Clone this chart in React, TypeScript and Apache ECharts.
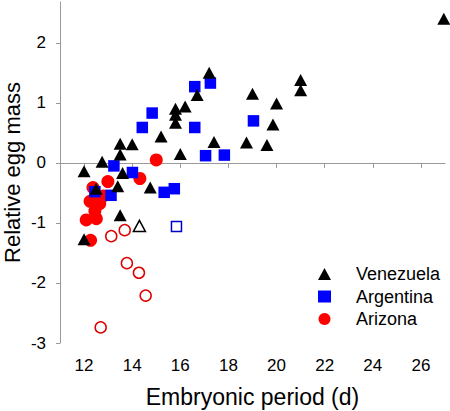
import React, { useEffect, useRef } from "react";
import * as echarts from "echarts";

const xTicks = [12, 14, 16, 18, 20, 22, 24, 26];
const yTicks = [-3, -2, -1, 0, 1, 2];

const venezuela: number[][] = [
  [17.2, 1.5], [16.7, 1.13], [21.0, 1.38], [21.0, 1.21], [19.0, 1.15], [20.0, 0.99],
  [16.2, 0.94], [15.8, 0.9], [15.8, 0.8], [15.8, 0.67], [19.85, 0.64], [15.2, 0.44],
  [17.4, 0.35], [18.75, 0.34], [19.6, 0.3], [13.5, 0.32], [14.0, 0.31], [13.5, 0.14],
  [16.0, 0.15], [12.75, 0.02], [12.0, -0.14], [13.6, -0.17], [12.5, -0.43], [13.4, -0.39],
  [14.75, -0.41], [13.5, -0.87], [12.0, -1.27], [26.95, 2.4],
];
const venezuelaOpen: number[][] = [[14.3, -1.05]];

const argentina: number[][] = [
  [16.6, 1.27], [17.25, 1.33], [14.83, 0.83], [14.42, 0.59], [16.6, 0.59], [19.04, 0.7],
  [17.05, 0.12], [17.83, 0.13], [13.24, -0.05], [14.01, -0.16], [15.33, -0.49], [15.75, -0.43],
  [12.45, -0.48], [13.12, -0.54],
];
const argentinaOpen: number[][] = [[15.84, -1.06]];

const arizona: number[][] = [
  [15.0, 0.05], [14.32, -0.26], [12.99, -0.31], [12.37, -0.41], [12.8, -0.55], [12.6, -0.6],
  [12.25, -0.64], [12.65, -0.68], [12.45, -0.8], [12.09, -0.95], [12.51, -0.93], [12.27, -1.29],
];
const arizonaOpen: number[][] = [
  [13.13, -1.22], [13.69, -1.12], [13.78, -1.67], [14.28, -1.83], [14.56, -2.21], [12.69, -2.74],
];

const FONT = "'Liberation Sans', Arial, sans-serif";

export default function App() {
  const ref = useRef<HTMLDivElement>(null);
  useEffect(() => {
    document.body.style.margin = "0";
    if (!ref.current) return;
    const chart = echarts.init(ref.current, undefined, { renderer: "svg" });
    const axisLine = { show: true, lineStyle: { color: "#999", width: 1 } };
    chart.setOption({
      animation: false,
      textStyle: { fontFamily: FONT },
      grid: { left: 60, right: 5, top: 2, bottom: 68, containLabel: false, outerBoundsMode: "none" },
      legend: {
        orient: "vertical",
        left: 318,
        top: 265,
        padding: 0,
        itemWidth: 13,
        itemHeight: 12,
        itemGap: 4.5,
        data: [
          { name: "Venezuela", icon: "triangle" },
          { name: "Argentina", icon: "rect" },
          { name: "Arizona", icon: "circle" },
        ],
        textStyle: { fontSize: 18, color: "#000", fontFamily: FONT, lineHeight: 18, padding: [0, 0, 0, 20] },
      },
      xAxis: {
        type: "value",
        min: 11,
        max: 27,
        name: "Embryonic period (d)",
        nameLocation: "middle",
        nameGap: 42,
        nameMoveOverlap: false,
        nameTextStyle: { fontSize: 23, color: "#000", fontFamily: FONT },
        axisLine,
        axisTick: { show: true, length: 5, lineStyle: { color: "#999" }, customValues: xTicks },
        axisLabel: { fontSize: 17, color: "#000", margin: 14, fontFamily: FONT, customValues: xTicks },
        splitLine: { show: false },
      },
      yAxis: {
        type: "value",
        min: -3,
        max: 2.68,
        name: "Relative egg mass",
        nameLocation: "middle",
        nameGap: 37,
        nameMoveOverlap: false,
        nameTextStyle: { fontSize: 22, color: "#000", fontFamily: FONT, lineHeight: 22 },
        axisLine,
        axisTick: { show: true, length: 4, lineStyle: { color: "#999" }, customValues: yTicks },
        axisLabel: { fontSize: 17, color: "#000", margin: 14, fontFamily: FONT, customValues: yTicks },
        splitLine: { show: false },
      },
      series: [
        {
          name: "Arizona",
          type: "scatter",
          data: arizona,
          symbol: "circle",
          symbolSize: 13,
          itemStyle: { color: "#ff0000", opacity: 1 },
          z: 2,
        },
        {
          name: "Arizona open",
          type: "scatter",
          data: arizonaOpen,
          symbol: "circle",
          symbolSize: 11,
          itemStyle: { color: "#fff", borderColor: "#dd0000", borderWidth: 1.5, opacity: 1 },
        },
        {
          name: "Argentina",
          type: "scatter",
          data: argentina,
          symbol: "rect",
          symbolSize: 11.5,
          itemStyle: { color: "#0000ff", opacity: 1 },
          z: 3,
        },
        {
          name: "Argentina open",
          type: "scatter",
          data: argentinaOpen,
          symbol: "rect",
          symbolSize: 10,
          itemStyle: { color: "#fff", borderColor: "#0000cc", borderWidth: 1.5, opacity: 1 },
        },
        {
          name: "Venezuela",
          type: "scatter",
          data: venezuela,
          symbol: "triangle",
          symbolSize: [13, 12],
          itemStyle: { color: "#000", opacity: 1 },
          z: 4,
        },
        {
          name: "Venezuela open",
          type: "scatter",
          data: venezuelaOpen,
          symbol: "triangle",
          symbolSize: [12, 11],
          itemStyle: { color: "#fff", borderColor: "#000", borderWidth: 1.5, opacity: 1 },
        },
      ],
    });
    return () => chart.dispose();
  }, []);
  return <div ref={ref} style={{ width: 450, height: 411 }} />;
}
